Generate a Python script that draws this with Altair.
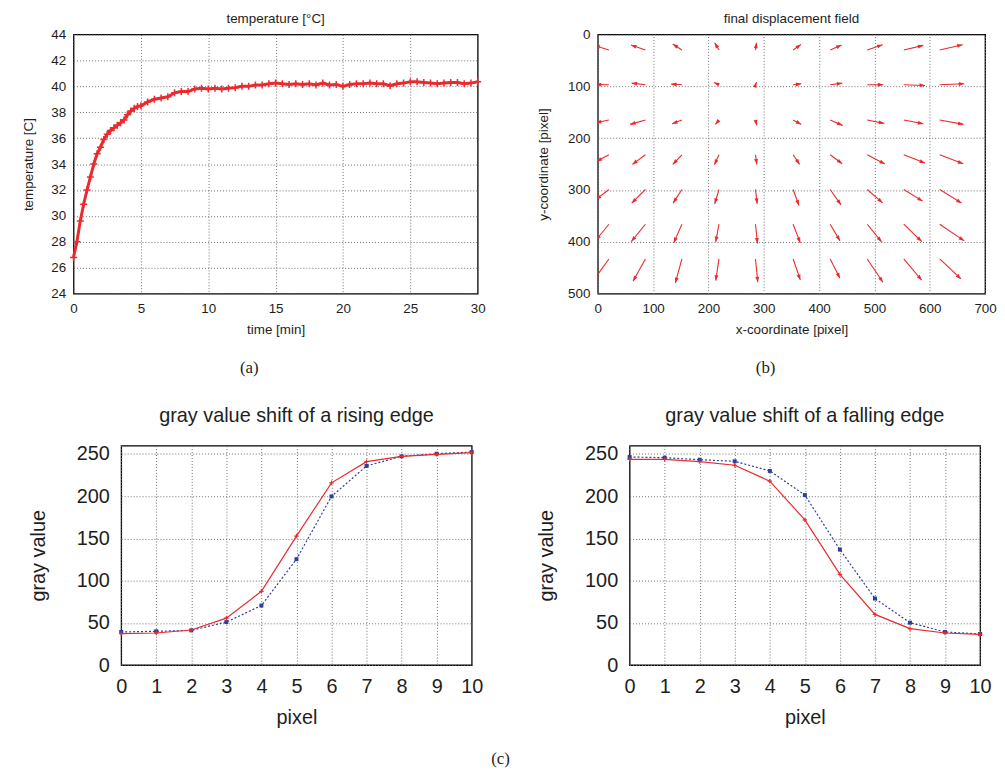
import altair as alt
import pandas as pd
import numpy as np

# ---------------- data ----------------
# (a) temperature curve
time_min = [0, 0.25, 0.5, 0.75, 1.0, 1.25, 1.5, 1.75, 2.0, 2.25, 2.5, 2.75, 3.0,
            3.25, 3.5, 3.75, 4.0, 4.25, 4.5, 4.75, 5.0, 5.5, 6.0, 6.5, 7.0, 7.5,
            8.0, 8.5, 9.0, 9.5, 10, 10.5, 11, 11.5, 12, 12.5, 13, 13.5, 14, 14.5,
            15, 15.5, 16, 16.5, 17, 17.5, 18, 18.5, 19, 19.5, 20, 20.5, 21, 21.5,
            22, 22.5, 23, 23.5, 24, 24.5, 25, 25.5, 26, 26.5, 27, 27.5, 28, 28.5,
            29, 29.5, 30]
temp_c = [26.8, 28.0, 29.6, 30.9, 32.0, 33.0, 34.0, 34.8, 35.3, 35.9, 36.3, 36.6, 36.8,
          37.0, 37.2, 37.4, 37.8, 38.1, 38.3, 38.45, 38.5, 38.8, 39.0, 39.1, 39.2, 39.5,
          39.6, 39.6, 39.8, 39.85, 39.8, 39.85, 39.8, 39.85, 39.9, 40.0, 40.0, 40.1, 40.1, 40.2,
          40.25, 40.2, 40.15, 40.2, 40.15, 40.2, 40.1, 40.25, 40.1, 40.15, 40.0, 40.15, 40.2, 40.2,
          40.25, 40.2, 40.2, 40.05, 40.2, 40.25, 40.35, 40.35, 40.3, 40.25, 40.2, 40.25, 40.3, 40.3,
          40.2, 40.25, 40.35]

# (b) displacement field: arrow tails and displacements (image pixels)
grid_x = [20, 86, 152, 219, 285, 353, 420, 487, 553, 618]
grid_y = [30, 97, 165, 232, 299, 366, 433]
disp_dx = [
    [-26, -26, -16.5, -7.7, 1.8, 14.2, 20.7, 27.7, 35.4, 41.3],
    [-23.6, -24.8, -19.5, -8.9, 1.8, 14.8, 21.8, 28.9, 38.4, 44.3],
    [-23.6, -27.7, -17.7, -6.5, 2.4, 14.8, 22.4, 30.7, 35.4, 43.1],
    [-22.4, -23.6, -16.5, -8.3, 2.4, 11.8, 21.8, 31.9, 38.4, 42.5],
    [-23.6, -24.8, -15.9, -7.7, 3.0, 10.6, 19.5, 27.7, 34.2, 39.6],
    [-23.6, -25.4, -14.8, -5.9, 3.5, 13.0, 17.7, 26.0, 32.5, 44.3],
    [-26, -22.4, -11.8, -5.9, 4.1, 13.0, 17.7, 28.3, 32.5, 38.4],
]
disp_dy = [
    [-9, -9.6, -11.6, -14.1, -14.1, -10.9, -9.6, -10.3, -9, -10.3],
    [-0.6, -3.2, -1.3, -4.5, -5.1, -1.9, -3.2, 0, 1.3, -1.9],
    [5.1, 8.4, 7.1, 8.4, 10.3, 8.4, 10.3, 6.4, 7.1, 8.4],
    [12.9, 18.6, 18.6, 19.3, 18.6, 18.6, 17.4, 18.0, 16.1, 17.4],
    [19.3, 26.3, 26.3, 27.6, 27.6, 30.8, 29.6, 25.7, 22.5, 26.3],
    [30.8, 33.4, 36.0, 34.1, 37.3, 36.0, 32.1, 34.1, 33.4, 32.1],
    [38.6, 43.1, 46.3, 41.8, 45.0, 40.5, 37.3, 45.0, 41.1, 38.6],
]

# (c) gray value profiles
pixels = list(range(11))
rising_red = [37.2, 38, 41.5, 55.6, 87.4, 152.8, 215.9, 241, 247.3, 249.6, 251.6]
rising_blue = [39.2, 40, 41.1, 50.9, 70.5, 125.4, 199.8, 235.9, 247.3, 250.4, 252.4]
falling_red = [243.7, 243.7, 241, 236.7, 217.9, 172, 107.4, 60, 43.1, 38, 36.4]
falling_blue = [246.5, 245.7, 243.3, 241.4, 230, 201.4, 136.8, 78.8, 50.2, 39.2, 36.8]

# ---------------- style ----------------
FONT = "Liberation Sans"
SERIF = "Liberation Serif"
RED = "#ea2a2e"
BLUE = "#2f3d9c"
TXT = "#1e1e1e"
GRID = dict(grid=True, gridColor="#707070", gridDash=[1, 2], gridWidth=1,
            ticks=False, domain=False, labelColor=TXT, titleColor=TXT,
            labelFont=FONT, titleFont=FONT, titleFontWeight="normal",
            labelOverlap=False, labelFlush=False)
PLUS = "M-1,0L1,0M0,-1L0,1"
HEAD = "M0,0L0.36,1L-0.36,1Z"

A_W, A_H = 407, 261
B_W, B_H = 390, 261
C_W, C_H = 353, 221

ONE = pd.DataFrame({"k": [0]})


def small_axis(title, values, **kw):
    return alt.Axis(title=title, values=values, tickCount=len(values), labelFontSize=13.5,
                    titleFontSize=13.5, labelPadding=8, **GRID, **kw)


def big_axis(title, values, **kw):
    return alt.Axis(title=title, values=values, tickCount=len(values), labelFontSize=20,
                    titleFontSize=20, labelPadding=12, **GRID, **kw)


def extent(x, y):
    """invisible anchor that fixes a panel's layout bounds"""
    return alt.Chart(ONE).mark_rule(opacity=0, strokeWidth=1).encode(
        x=alt.value(x), x2=alt.value(x + 1), y=alt.value(y), y2=alt.value(y + 1))


def caption(label, x, y):
    return alt.Chart(ONE).mark_text(font=SERIF, fontSize=17, color=TXT).encode(
        x=alt.value(x), y=alt.value(y), text=alt.value(label))


def spacer():
    return alt.Chart(ONE).mark_point(opacity=0).encode(
        x=alt.value(0), y=alt.value(0)).properties(
        width=1, height=1, view=alt.ViewBackground(stroke="transparent"))


# ---------------- (a) ----------------
df_a = pd.DataFrame({"t": time_min, "T": temp_c})
xa = alt.X("t:Q", scale=alt.Scale(domain=[0, 30], nice=False),
           axis=small_axis("time [min]", list(range(0, 31, 5)), titlePadding=8))
ya = alt.Y("T:Q", scale=alt.Scale(domain=[24, 44], nice=False),
           axis=small_axis("temperature [C]", list(range(24, 45, 2)), titlePadding=15))
line_a = alt.Chart(df_a).mark_line(color=RED, strokeWidth=3).encode(x=xa, y=ya)
pts_a = alt.Chart(df_a).mark_point(shape=PLUS, color=RED, size=50, strokeWidth=1.5,
                                   filled=False, opacity=1).encode(x="t:Q", y="T:Q")
chart_a = alt.layer(line_a, pts_a, caption("(a)", 177, 336),
                    extent(-57, 100), extent(420, 100), extent(100, 347)
                    ).properties(
    width=A_W, height=A_H,
    title=alt.TitleParams("temperature [°C]", font=FONT, fontSize=13.5, fontWeight="normal",
                          color=TXT, offset=2))

# ---------------- (b) ----------------
rows = []
for i, y0 in enumerate(grid_y):
    for j, x0 in enumerate(grid_x):
        dx = disp_dx[i][j]
        dy = disp_dy[i][j]
        sx = dx * B_W / 700.0
        sy = dy * B_H / 500.0
        ang = float(np.degrees(np.arctan2(sx, -sy)) % 360)
        rows.append(dict(x0=x0, y0=y0, x1=x0 + dx, y1=y0 + dy, ang=ang))
df_b = pd.DataFrame(rows)
xs_b = alt.Scale(domain=[0, 700], nice=False)
ys_b = alt.Scale(domain=[0, 500], nice=False, reverse=True)
shaft = alt.Chart(df_b).mark_rule(color=RED, strokeWidth=1.1, clip=True).encode(
    x=alt.X("x0:Q", scale=xs_b,
            axis=small_axis("x-coordinate [pixel]", list(range(0, 701, 100)), titlePadding=8)),
    y=alt.Y("y0:Q", scale=ys_b,
            axis=small_axis("y-coordinate [pixel]", list(range(0, 501, 100)), titlePadding=17)),
    x2="x1:Q", y2="y1:Q")
head = alt.Chart(df_b).mark_point(shape=HEAD, filled=True, color=RED, size=120, opacity=1,
                                  clip=True).encode(
    x="x1:Q", y="y1:Q", angle=alt.Angle("ang:Q", scale=None))
chart_b = alt.layer(shaft, head, caption("(b)", 169, 336), extent(-105, 100)).properties(
    width=B_W, height=B_H,
    title=alt.TitleParams("final displacement field", font=FONT, fontSize=13.5,
                          fontWeight="normal", color=TXT, offset=2))


# ---------------- (c) ----------------
def make_c(title, red_vals, blue_vals, extras):
    df = pd.DataFrame({"px": pixels, "red": red_vals, "blue": blue_vals})
    xc = alt.X("px:Q", scale=alt.Scale(domain=[0, 10], nice=False),
               axis=big_axis("pixel", pixels, titlePadding=11))
    yc = alt.Y("red:Q", scale=alt.Scale(domain=[0, 260], nice=False),
               axis=big_axis("gray value", list(range(0, 251, 50)), titlePadding=28))
    base = alt.Chart(df)
    blue_line = base.mark_line(color=BLUE, strokeWidth=1.2, strokeDash=[2, 2]).encode(
        x=xc, y=alt.Y("blue:Q"))
    blue_pts = base.mark_point(shape="square", filled=True, color=BLUE, size=16,
                               opacity=1).encode(x="px:Q", y="blue:Q")
    red_line = base.mark_line(color=RED, strokeWidth=1.2).encode(x="px:Q", y=yc)
    red_pts = base.mark_point(shape=PLUS, filled=False, color=RED, size=20, strokeWidth=1.2,
                              opacity=1).encode(x="px:Q", y="red:Q")
    return alt.layer(blue_line, blue_pts, red_line, red_pts, *extras).properties(
        width=C_W, height=C_H,
        title=alt.TitleParams(title, font=FONT, fontSize=20, fontWeight="normal",
                              color=TXT, offset=18))


chart_c1 = make_c("gray value shift of a rising edge", rising_red, rising_blue,
                  [caption("(c)", 382, 316), extent(-105, 100), extent(400, 100)])
chart_c2 = make_c("gray value shift of a falling edge", falling_red, falling_blue,
                  [extent(-109, 100)])

row1 = alt.hconcat(spacer(), chart_a, chart_b, spacing=0)
row2 = alt.hconcat(spacer(), chart_c1, chart_c2, spacing=0)

chart = alt.vconcat(row1, row2, spacing=24).properties(
    padding=0,
    background="white",
).configure_view(stroke="black", strokeWidth=1.3)

chart.save("out.html", embed_options={"renderer": "svg", "actions": False})
